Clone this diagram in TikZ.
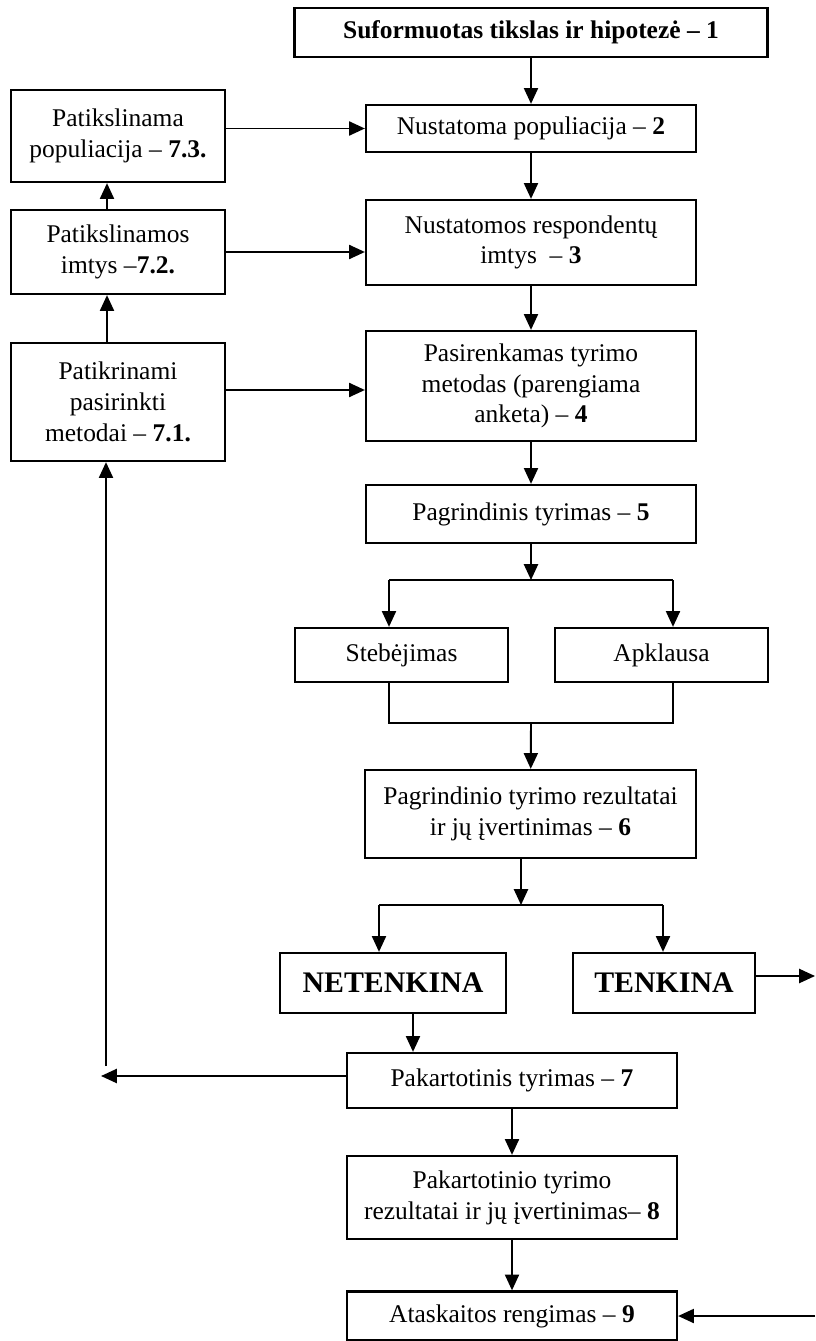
\documentclass[tikz,border=0pt]{standalone}
\usepackage{fontspec}
\setmainfont{Liberation Serif}
\usepackage{tikz}
\usetikzlibrary{arrows.meta, calc}

\begin{document}
\begin{tikzpicture}[x=0.02cm, y=-0.02cm,
  box/.style={draw, line width=1.3pt, align=center, inner sep=0pt,
    font=\fontsize{14.5}{17.5}\selectfont},
  bigbox/.style={box, font=\fontsize{17}{19}\selectfont\bfseries},
  arr/.style={line width=1.1pt, -{Triangle[length=9pt,width=8pt]}},
  ln/.style={line width=1.1pt}]
\useasboundingbox (0,0) rectangle (815,1341);

% Main column
\node[box, minimum width=9.46cm, minimum height=0.98cm] (b1) at (531,32.5) {\bfseries Suformuotas tikslas ir hipotezė – 1};
\node[box, minimum width=6.6cm, minimum height=0.94cm] (b2) at (531,128.5) {Nustatoma populiacija – \textbf{2}};
\node[box, minimum width=6.6cm, minimum height=1.7cm] (b3) at (531,242.5) {Nustatomos respondentų\\imtys \ – \textbf{3}};
\node[box, minimum width=6.6cm, minimum height=2.2cm] (b4) at (531,386) {Pasirenkamas tyrimo\\metodas (parengiama\\anketa) – \textbf{4}};
\node[box, minimum width=6.6cm, minimum height=1.16cm] (b5) at (531,514) {Pagrindinis tyrimas – \textbf{5}};

% Left column
\node[box, minimum width=4.28cm, minimum height=1.84cm] (b73) at (118,136) {Patikslinama\\populiacija – \textbf{7.3.}};
\node[box, minimum width=4.28cm, minimum height=1.68cm] (b72) at (118,252) {Patikslinamos\\imtys –\textbf{7.2.}};
\node[box, minimum width=4.28cm, minimum height=2.36cm] (b71) at (118,402) {Patikrinami\\pasirinkti\\metodai – \textbf{7.1.}};

% Methods
\node[box, minimum width=4.26cm, minimum height=1.08cm] (steb) at (401.5,655) {Stebėjimas};
\node[box, minimum width=4.26cm, minimum height=1.08cm] (apkl) at (661.5,655) {Apklausa};
\node[box, minimum width=6.62cm, minimum height=1.76cm] (b6) at (530.5,814) {Pagrindinio tyrimo rezultatai\\ir jų įvertinimas – \textbf{6}};

% Evaluation
\node[bigbox, minimum width=4.52cm, minimum height=1.2cm] (net) at (393,983) {NETENKINA};
\node[bigbox, minimum width=3.64cm, minimum height=1.2cm] (ten) at (664,983) {TENKINA};
\node[box, minimum width=6.6cm, minimum height=1.1cm] (b7) at (512,1080.5) {Pakartotinis tyrimas – \textbf{7}};
\node[box, minimum width=6.6cm, minimum height=1.66cm] (b8) at (512,1197.5) {Pakartotinio tyrimo\\rezultatai ir jų įvertinimas– \textbf{8}};
\node[box, minimum width=6.6cm, minimum height=0.98cm] (b9) at (512,1316) {Ataskaitos rengimas – \textbf{9}};

% Junction points
\coordinate (s1) at (531,580);
\coordinate (sl) at (389,580);
\coordinate (sr) at (673,580);
\coordinate (jl) at (389,723);
\coordinate (jr) at (673,723);
\coordinate (jm) at (531,723);
\coordinate (s2) at (521,905);
\coordinate (tl) at (379,905);
\coordinate (tr) at (663,905);
\coordinate (tout) at (815,976);
\coordinate (lout) at (101,1076);
\coordinate (lup) at (106,1066);
\coordinate (rin) at (815,1316);

% Main arrows
\draw[arr] (b1) -- (b2);
\draw[arr] (b2) -- (b3);
\draw[arr] (b3) -- (b4);
\draw[arr] (b4) -- (b5);
\draw[arr] (b5) -- (s1);
\draw[ln] (sl) -- (sr);
\draw[arr] (sl) -- (sl |- steb.north);
\draw[arr] (sr) -- (sr |- apkl.north);
\draw[ln] (sl |- steb.south) -- (jl) -- (jr) -- (sr |- apkl.south);
\draw[arr] (jm) -- (b6);
\draw[arr] (s2 |- b6.south) -- (s2);
\draw[ln] (tl) -- (tr);
\draw[arr] (tl) -- (tl |- net.north);
\draw[arr] (tr) -- (tr |- ten.north);
\draw[arr] (ten.east |- tout) -- (tout);
\draw[arr] ([xshift=.4cm]net.south) -- ([xshift=.4cm]net.south |- b7.north);
\draw[arr] (b7) -- (b8);
\draw[arr] (b8) -- (b9);
\draw[arr] (rin) -- (b9.east);

% Feedback loop
\draw[arr] (b7.west |- lout) -- (lout);
\draw[arr] (lup) -- (lup |- b71.south);
\draw[arr] ([xshift=-.22cm]b71.north) -- ([xshift=-.22cm]b72.south);
\draw[arr] ([xshift=-.22cm]b72.north) -- ([xshift=-.22cm]b73.south);
\draw[arr] (b73.east |- b2) -- (b2.west);
\draw[arr] (b72.east) -- (b72.east -| b3.west);
\draw[arr] ([yshift=.24cm]b71.east) -- ([yshift=.24cm]b71.east -| b4.west);

\end{tikzpicture}
\end{document}
